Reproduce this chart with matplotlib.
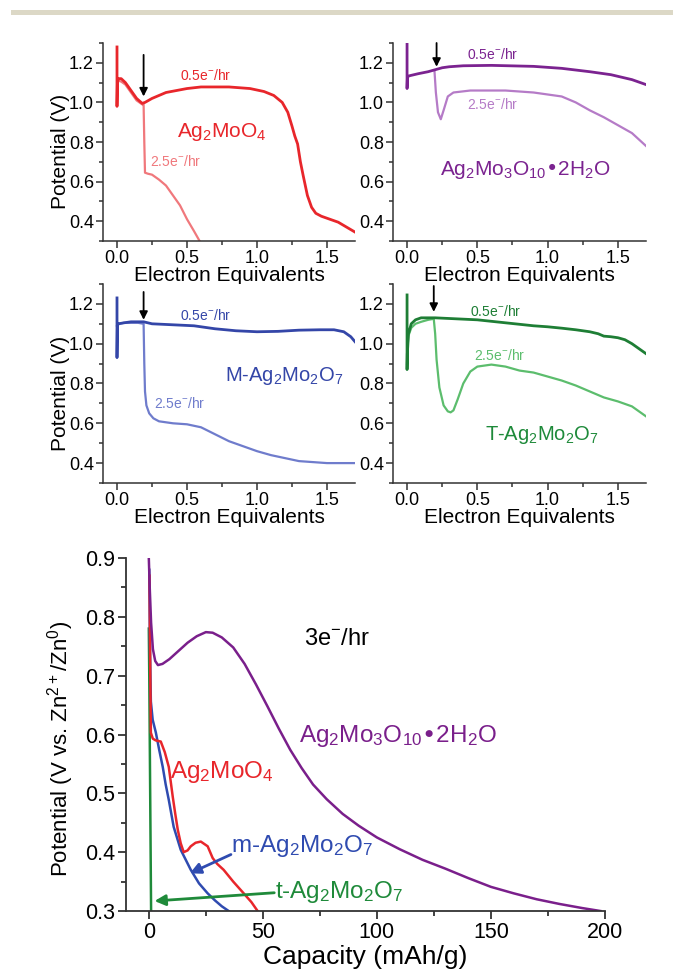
import matplotlib
matplotlib.use("Agg")
import matplotlib.pyplot as plt
from matplotlib.ticker import MultipleLocator, FormatStrFormatter
from matplotlib.patches import Rectangle

plt.rcParams['font.family'] = ['Liberation Sans', 'DejaVu Sans']
plt.rcParams['mathtext.default'] = 'regular'

# ---- small panels: potential vs electron equivalents ----
# Ag2MoO4
ag2moo4_slow_x = [0.0, 0.0, 0.003, 0.01, 0.03, 0.06, 0.10, 0.14, 0.18, 0.20, 0.25, 0.35, 0.50, 0.60, 0.80,
                  0.95, 1.05, 1.12, 1.18, 1.22, 1.25, 1.27, 1.29, 1.31, 1.33, 1.36, 1.39, 1.42, 1.46, 1.52,
                  1.58, 1.64, 1.70]
ag2moo4_slow_y = [1.28, 0.98, 1.10, 1.12, 1.12, 1.10, 1.06, 1.02, 0.995, 1.0, 1.02, 1.05, 1.07, 1.078, 1.078,
                  1.07, 1.055, 1.035, 1.0, 0.95, 0.88, 0.83, 0.79, 0.70, 0.63, 0.53, 0.47, 0.44, 0.425, 0.41,
                  0.395, 0.37, 0.345]
ag2moo4_fast_x = [0.0, 0.003, 0.01, 0.03, 0.06, 0.10, 0.14, 0.18, 0.19, 0.195, 0.20, 0.22, 0.25, 0.30, 0.35,
                  0.40, 0.45, 0.50, 0.55, 0.59]
ag2moo4_fast_y = [1.0, 1.09, 1.11, 1.105, 1.09, 1.05, 1.01, 0.99, 0.99, 0.80, 0.645, 0.64, 0.635, 0.61, 0.58,
                  0.53, 0.48, 0.41, 0.35, 0.30]

# Ag2Mo3O10.2H2O
ag2mo3_slow_x = [0.0, 0.0, 0.003, 0.02, 0.08, 0.15, 0.2, 0.25, 0.3, 0.4, 0.6, 0.9, 1.1, 1.3, 1.45, 1.6, 1.7]
ag2mo3_slow_y = [1.30, 1.07, 1.13, 1.135, 1.145, 1.155, 1.165, 1.175, 1.18, 1.185, 1.187, 1.182, 1.172, 1.155,
                 1.14, 1.115, 1.09]
ag2mo3_fast_x = [0.195, 0.205, 0.22, 0.24, 0.26, 0.29, 0.33, 0.45, 0.7, 0.9, 1.1, 1.2, 1.3, 1.4, 1.5, 1.6, 1.7]
ag2mo3_fast_y = [1.16, 1.05, 0.95, 0.915, 0.96, 1.03, 1.05, 1.06, 1.06, 1.05, 1.03, 1.0, 0.96, 0.925, 0.885,
                 0.845, 0.78]

# M-Ag2Mo2O7
m_slow_x = [0.0, 0.0, 0.003, 0.01, 0.05, 0.1, 0.15, 0.19, 0.25, 0.4, 0.55, 0.7, 0.85, 1.0, 1.15, 1.3, 1.45,
            1.55, 1.62, 1.67, 1.70]
m_slow_y = [1.23, 0.93, 1.09, 1.10, 1.105, 1.11, 1.11, 1.11, 1.10, 1.095, 1.09, 1.075, 1.065, 1.06, 1.062,
            1.068, 1.07, 1.07, 1.06, 1.035, 1.01]
m_fast_x = [0.0, 0.01, 0.05, 0.1, 0.15, 0.19, 0.195, 0.2, 0.21, 0.23, 0.26, 0.3, 0.4, 0.5, 0.6, 0.7, 0.8,
            0.9, 1.0, 1.1, 1.2, 1.3, 1.4, 1.5, 1.6, 1.7]
m_fast_y = [1.09, 1.10, 1.105, 1.105, 1.105, 1.10, 0.90, 0.76, 0.69, 0.65, 0.625, 0.61, 0.60, 0.595, 0.58,
            0.545, 0.51, 0.485, 0.46, 0.44, 0.425, 0.41, 0.405, 0.40, 0.40, 0.40]

# T-Ag2Mo2O7
t_slow_x = [0.0, 0.0, 0.002, 0.01, 0.03, 0.06, 0.1, 0.2, 0.35, 0.5, 0.7, 0.9, 1.0, 1.1, 1.2, 1.3, 1.36, 1.4,
            1.45, 1.5, 1.55, 1.6, 1.65, 1.7]
t_slow_y = [1.245, 0.87, 0.95, 1.05, 1.10, 1.12, 1.13, 1.13, 1.125, 1.12, 1.105, 1.09, 1.085, 1.078, 1.07,
            1.06, 1.05, 1.038, 1.035, 1.03, 1.02, 1.0, 0.975, 0.95]
t_fast_x = [0.0, 0.003, 0.01, 0.03, 0.06, 0.1, 0.15, 0.19, 0.2, 0.21, 0.23, 0.26, 0.29, 0.31, 0.33, 0.36, 0.4,
            0.45, 0.5, 0.6, 0.7, 0.8, 0.9, 1.0, 1.1, 1.2, 1.3, 1.4, 1.5, 1.6, 1.65, 1.7]
t_fast_y = [0.9, 0.98, 1.04, 1.08, 1.10, 1.11, 1.12, 1.125, 1.05, 0.92, 0.78, 0.69, 0.66, 0.655, 0.665, 0.72,
            0.80, 0.86, 0.885, 0.895, 0.885, 0.865, 0.855, 0.835, 0.815, 0.79, 0.76, 0.73, 0.71, 0.685, 0.66,
            0.635]

# ---- big panel: 3e-/hr capacity ----
purple_x = [0, 0.4, 1.0, 1.8, 2.8, 4, 6, 9, 13, 17, 21, 25, 28, 32, 37, 42, 47, 52, 57, 62, 67, 72, 78, 85,
            92, 100, 110, 120, 130, 140, 150, 160, 170, 180, 190, 198]
purple_y = [0.9, 0.85, 0.79, 0.745, 0.725, 0.718, 0.72, 0.728, 0.742, 0.756, 0.767, 0.774, 0.773, 0.765,
            0.748, 0.72, 0.685, 0.648, 0.61, 0.574, 0.543, 0.515, 0.49, 0.465, 0.445, 0.425, 0.405, 0.387,
            0.372, 0.356, 0.341, 0.33, 0.32, 0.312, 0.305, 0.30]
red_x = [0.3, 0.6, 0.9, 1.75, 3.0, 5.25, 7.0, 8.75, 10.5, 11.6, 12.7, 14.0, 15.3, 17.0, 18.4, 20.5, 22.8,
         25.8, 28.0, 30.0, 32.8, 37.0, 41.6, 45.0, 47.7]
red_y = [0.87, 0.72, 0.603, 0.593, 0.59, 0.588, 0.57, 0.545, 0.494, 0.465, 0.438, 0.415, 0.40, 0.403, 0.41,
         0.416, 0.418, 0.41, 0.39, 0.38, 0.37, 0.35, 0.33, 0.315, 0.30]
blue_x = [0.2, 0.5, 0.9, 1.7, 3.1, 4.5, 6.1, 7.4, 8.75, 10.9, 14.0, 18.4, 22.0, 25.8, 29.0, 32.0, 35.0]
blue_y = [0.88, 0.75, 0.656, 0.625, 0.603, 0.575, 0.545, 0.515, 0.489, 0.443, 0.404, 0.37, 0.347, 0.33,
          0.318, 0.308, 0.30]
green_x = [0.0, 0.2, 0.4, 0.6, 0.8, 1.0]
green_y = [0.78, 0.70, 0.60, 0.50, 0.40, 0.30]

W, H = 673, 972
fig = plt.figure(figsize=(W / 100, H / 100), dpi=100)

# grey band at the top of the page
fig.add_artist(Rectangle((11 / W, 1 - 15 / H), 662 / W, 5 / H, transform=fig.transFigure,
                         color='#dcd8c6', lw=0))


def px_axes(x0, y0, x1, y1):
    return fig.add_axes([x0 / W, 1 - y1 / H, (x1 - x0) / W, (y1 - y0) / H])


def style_small(ax, ylabel):
    ax.set_xlim(-0.1, 1.7)
    ax.set_ylim(0.3, 1.3)
    ax.set_xticks([0.0, 0.5, 1.0, 1.5])
    ax.set_yticks([0.4, 0.6, 0.8, 1.0, 1.2])
    ax.xaxis.set_major_formatter(FormatStrFormatter('%.1f'))
    ax.yaxis.set_major_formatter(FormatStrFormatter('%.1f'))
    ax.xaxis.set_minor_locator(MultipleLocator(0.25))
    ax.yaxis.set_minor_locator(MultipleLocator(0.1))
    ax.spines['top'].set_visible(False)
    ax.spines['right'].set_visible(False)
    for s in ['left', 'bottom']:
        ax.spines[s].set_linewidth(1.1)
        ax.spines[s].set_color('#333333')
    ax.tick_params(which='major', direction='out', length=5, width=1.1, labelsize=13, pad=1.5, color='#333333')
    ax.tick_params(which='minor', direction='out', length=3, width=1.1, color='#333333')
    ax.set_xlabel('Electron Equivalents', fontsize=15)
    ax.xaxis.set_label_coords(0.5, -0.125)
    if ylabel:
        ax.set_ylabel('Potential (V)', fontsize=15)
        ax.yaxis.set_label_coords(-0.13, 0.45)


def rate_arrow(ax, x, y0, y1):
    ax.annotate('', xy=(x, y1), xytext=(x, y0),
                arrowprops=dict(arrowstyle='-|>', color='black', lw=1.3, mutation_scale=12,
                                shrinkA=0, shrinkB=0))


# top left: Ag2MoO4
ax1 = px_axes(103, 43, 355, 241)
ax1.plot(ag2moo4_fast_x, ag2moo4_fast_y, color='#f0787c', lw=1.6)
ax1.plot(ag2moo4_slow_x, ag2moo4_slow_y, color='#e8262b', lw=2.0)
rate_arrow(ax1, 0.19, 1.24, 1.03)
ax1.text(0.63, 1.135, '0.5e$^{-}$/hr', color='#e8262b', fontsize=10, ha='center', va='center')
ax1.text(0.42, 0.70, '2.5e$^{-}$/hr', color='#f0787c', fontsize=10, ha='center', va='center')
ax1.text(0.75, 0.85, 'Ag$_2$MoO$_4$', color='#e8262b', fontsize=15, ha='center', va='center')
style_small(ax1, True)

# top right: Ag2Mo3O10.2H2O
ax2 = px_axes(393, 43, 646, 241)
ax2.plot(ag2mo3_fast_x, ag2mo3_fast_y, color='#b57bc7', lw=1.6)
ax2.plot(ag2mo3_slow_x, ag2mo3_slow_y, color='#7b2390', lw=2.0)
rate_arrow(ax2, 0.21, 1.30, 1.18)
ax2.text(0.61, 1.24, '0.5e$^{-}$/hr', color='#7b2390', fontsize=10, ha='center', va='center')
ax2.text(0.61, 0.99, '2.5e$^{-}$/hr', color='#b57bc7', fontsize=10, ha='center', va='center')
ax2.text(0.84, 0.66, 'Ag$_2$Mo$_3$O$_{10}$•2H$_2$O', color='#7b2390', fontsize=15, ha='center', va='center')
style_small(ax2, False)

# middle left: M-Ag2Mo2O7
ax3 = px_axes(103, 284, 355, 483)
ax3.plot(m_fast_x, m_fast_y, color='#6f7ccc', lw=1.6)
ax3.plot(m_slow_x, m_slow_y, color='#3446a8', lw=2.0)
rate_arrow(ax3, 0.19, 1.26, 1.12)
ax3.text(0.63, 1.14, '0.5e$^{-}$/hr', color='#3446a8', fontsize=10, ha='center', va='center')
ax3.text(0.45, 0.70, '2.5e$^{-}$/hr', color='#6f7ccc', fontsize=10, ha='center', va='center')
ax3.text(1.19, 0.84, 'M-Ag$_2$Mo$_2$O$_7$', color='#3446a8', fontsize=14.5, ha='center', va='center')
style_small(ax3, True)

# middle right: T-Ag2Mo2O7
ax4 = px_axes(393, 284, 646, 483)
ax4.plot(t_fast_x, t_fast_y, color='#5cbd6d', lw=1.6)
ax4.plot(t_slow_x, t_slow_y, color='#1e7e35', lw=2.0)
rate_arrow(ax4, 0.19, 1.29, 1.16)
ax4.text(0.63, 1.16, '0.5e$^{-}$/hr', color='#1e7e35', fontsize=10, ha='center', va='center')
ax4.text(0.66, 0.94, '2.5e$^{-}$/hr', color='#5cbd6d', fontsize=10, ha='center', va='center')
ax4.text(0.96, 0.54, 'T-Ag$_2$Mo$_2$O$_7$', color='#1e8a3a', fontsize=14.5, ha='center', va='center')
style_small(ax4, False)

# bottom: capacity at 3e-/hr
ax5 = px_axes(126, 558, 605, 911)
ax5.plot(green_x, green_y, color='#1f8a3a', lw=1.8)
ax5.plot(blue_x, blue_y, color='#2f4bb0', lw=1.8)
ax5.plot(red_x, red_y, color='#e8262b', lw=1.8)
ax5.plot(purple_x, purple_y, color='#7a1f8b', lw=1.8)
ax5.set_xlim(-10, 200)
ax5.set_ylim(0.3, 0.9)
ax5.set_xticks([0, 50, 100, 150, 200])
ax5.set_yticks([0.3, 0.4, 0.5, 0.6, 0.7, 0.8, 0.9])
ax5.yaxis.set_major_formatter(FormatStrFormatter('%.1f'))
ax5.xaxis.set_minor_locator(MultipleLocator(25))
ax5.yaxis.set_minor_locator(MultipleLocator(0.05))
ax5.spines['top'].set_visible(False)
ax5.spines['right'].set_visible(False)
for s in ['left', 'bottom']:
    ax5.spines[s].set_linewidth(1.3)
    ax5.spines[s].set_color('#333333')
ax5.tick_params(which='major', direction='out', length=6, width=1.3, labelsize=15.5, pad=2, color='#333333')
ax5.tick_params(which='minor', direction='out', length=3.5, width=1.3, color='#333333')
ax5.set_xlabel('Capacity (mAh/g)', fontsize=19)
ax5.xaxis.set_label_coords(0.5, -0.097)
ax5.set_ylabel('Potential (V vs. Zn$^{2+}$/Zn$^{0}$)', fontsize=16)
ax5.yaxis.set_label_coords(-0.105, 0.46)

ax5.text(68, 0.762, '3e$^{-}$/hr', color='black', fontsize=17, ha='left', va='center')
ax5.text(66, 0.597, 'Ag$_2$Mo$_3$O$_{10}$•2H$_2$O', color='#7a1f8b', fontsize=17.5, ha='left', va='center')
ax5.text(9.5, 0.537, 'Ag$_2$MoO$_4$', color='#e8262b', fontsize=17.5, ha='left', va='center')
ax5.text(36, 0.41, 'm-Ag$_2$Mo$_2$O$_7$', color='#2f4bb0', fontsize=17.5, ha='left', va='center')
ax5.text(55.5, 0.333, 't-Ag$_2$Mo$_2$O$_7$', color='#1f8a3a', fontsize=17.5, ha='left', va='center')
ax5.annotate('', xy=(18, 0.364), xytext=(36, 0.396),
             arrowprops=dict(arrowstyle='-|>', color='#2f4bb0', lw=2, mutation_scale=16, shrinkA=0, shrinkB=0))
ax5.annotate('', xy=(2.5, 0.317), xytext=(55, 0.331),
             arrowprops=dict(arrowstyle='-|>', color='#1f8a3a', lw=2, mutation_scale=16, shrinkA=0, shrinkB=0))

fig.savefig('out.png', dpi=100)
